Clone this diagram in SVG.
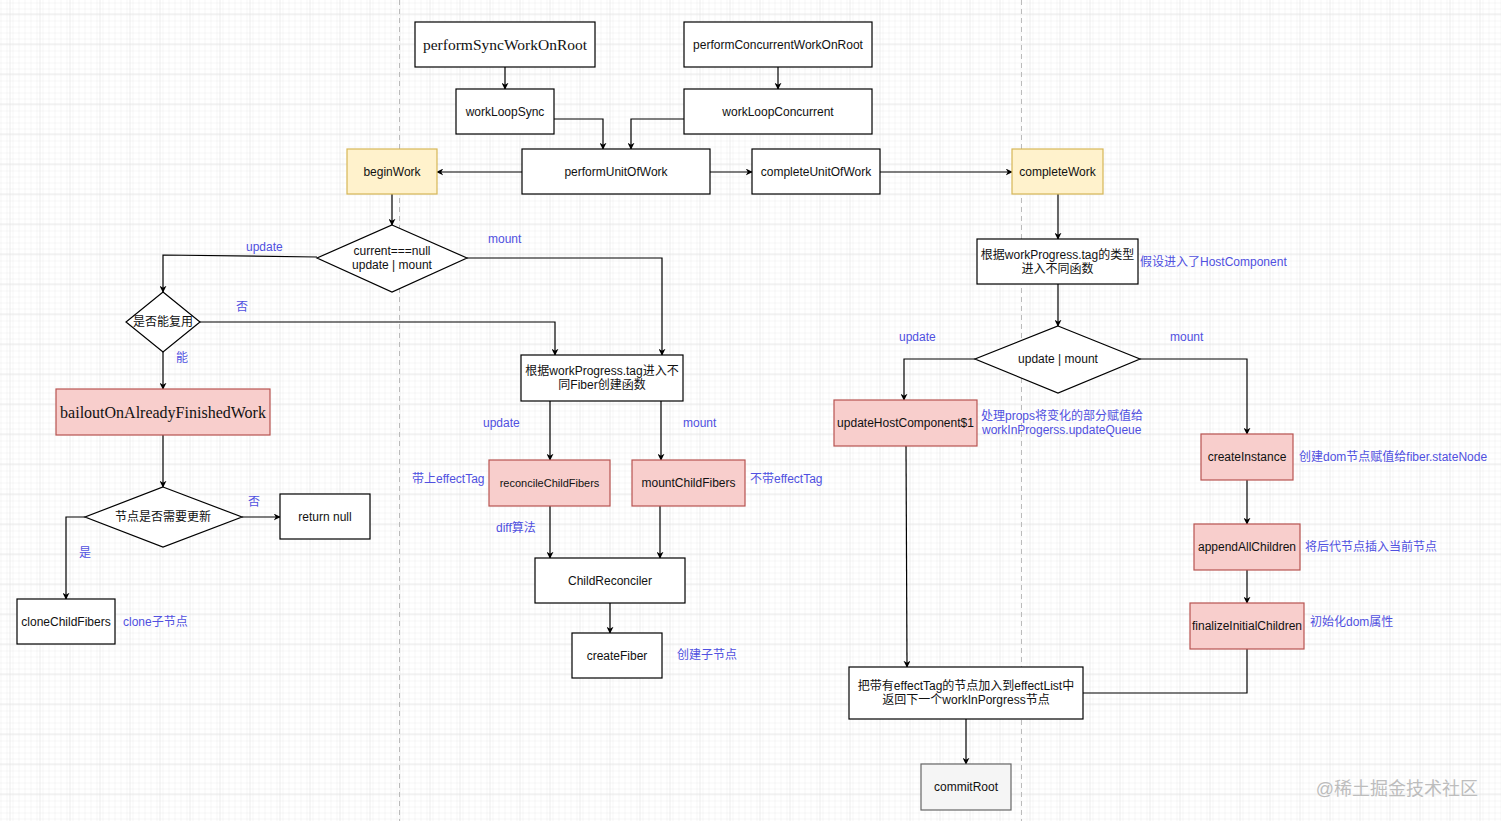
<svg xmlns="http://www.w3.org/2000/svg" width="1501" height="821" viewBox="0 0 1501 821">
<defs>
<pattern id="minor" width="6" height="6" patternUnits="userSpaceOnUse" x="3" y="1">
<path d="M6 0H0V6" fill="none" stroke="#ededed" stroke-width="1"/>
</pattern>
<pattern id="major" width="30" height="30" patternUnits="userSpaceOnUse" x="9.5" y="13.5">
<rect width="30" height="30" fill="url(#minor)"/>
<path d="M30 0H0V30" fill="none" stroke="#dcdcdc" stroke-width="1"/>
</pattern>
<marker id="arr" viewBox="0 0 10 10" refX="9" refY="5" markerWidth="7" markerHeight="7" orient="auto" markerUnits="userSpaceOnUse">
<path d="M0 0L10 5L0 10L3 5Z" fill="#000"/>
</marker>
</defs>
<style>
.box{fill:#fff;stroke:#000;stroke-width:1.2}
.yel{fill:#fff2cc;stroke:#d6b656;stroke-width:1.2}
.red{fill:#f8cecc;stroke:#b85450;stroke-width:1.2}
.gry{fill:#f5f5f5;stroke:#666;stroke-width:1.2}
.t{font-family:"Liberation Sans","Noto Sans CJK SC",sans-serif;font-size:12px;fill:#111;text-anchor:middle;dominant-baseline:central}
.s{font-family:"Liberation Serif","Noto Sans CJK SC",serif;font-size:16px;fill:#111;text-anchor:middle;dominant-baseline:central}
.l{font-family:"Liberation Sans","Noto Sans CJK SC",sans-serif;font-size:12px;fill:#5050e0;dominant-baseline:central}
.c path{fill:none;stroke:#000;stroke-width:1.2}
</style>
<rect width="1501" height="821" fill="#fff"/>
<rect width="1501" height="821" fill="url(#major)"/>
<line x1="399.5" y1="0" x2="399.5" y2="821" stroke="#bbb" stroke-dasharray="5 4"/>
<line x1="1021.5" y1="0" x2="1021.5" y2="821" stroke="#bbb" stroke-dasharray="5 4"/>

<g id="connectors" class="c">
<path d="M505 67V89" marker-end="url(#arr)"/>
<path d="M778 67V89" marker-end="url(#arr)"/>
<path d="M554 119H603V149" marker-end="url(#arr)"/>
<path d="M684 119H631V149" marker-end="url(#arr)"/>
<path d="M522 172H437" marker-end="url(#arr)"/>
<path d="M710 172H752" marker-end="url(#arr)"/>
<path d="M880 172H1012" marker-end="url(#arr)"/>
<path d="M392 194V225" marker-end="url(#arr)"/>
<path d="M317 257L163 255V292" marker-end="url(#arr)"/>
<path d="M467 258H662V355" marker-end="url(#arr)"/>
<path d="M200 322H555V355" marker-end="url(#arr)"/>
<path d="M163 352V389" marker-end="url(#arr)"/>
<path d="M163 435V487" marker-end="url(#arr)"/>
<path d="M242 517H280" marker-end="url(#arr)"/>
<path d="M85 517H66V599" marker-end="url(#arr)"/>
<path d="M550 401V460" marker-end="url(#arr)"/>
<path d="M661 401V460" marker-end="url(#arr)"/>
<path d="M550 506V558" marker-end="url(#arr)"/>
<path d="M660 506V558" marker-end="url(#arr)"/>
<path d="M610 603V633" marker-end="url(#arr)"/>
<path d="M1058 194V239" marker-end="url(#arr)"/>
<path d="M1058 284V326" marker-end="url(#arr)"/>
<path d="M975 359H904V400" marker-end="url(#arr)"/>
<path d="M1140 359H1247V434" marker-end="url(#arr)"/>
<path d="M906 446L907 667" marker-end="url(#arr)"/>
<path d="M1247 480V524" marker-end="url(#arr)"/>
<path d="M1247 570V603" marker-end="url(#arr)"/>
<path d="M1247 649V693H1083"/>
<path d="M966 719V764" marker-end="url(#arr)"/>
</g>

<g id="labels">
<text class="l" x="246" y="247">update</text>
<text class="l" x="488" y="239">mount</text>
<text class="l" x="236" y="307">否</text>
<text class="l" x="176" y="358">能</text>
<text class="l" x="248" y="502">否</text>
<text class="l" x="79" y="553">是</text>
<text class="l" x="123" y="622">clone子节点</text>
<text class="l" x="483" y="423">update</text>
<text class="l" x="683" y="423">mount</text>
<text class="l" x="412" y="479">带上effectTag</text>
<text class="l" x="750" y="479">不带effectTag</text>
<text class="l" x="496" y="528">diff算法</text>
<text class="l" x="677" y="655">创建子节点</text>
<text class="l" x="1140" y="262">假设进入了HostComponent</text>
<text class="l" x="899" y="337">update</text>
<text class="l" x="1170" y="337">mount</text>
<text class="l" x="981" y="416">处理props将变化的部分赋值给</text>
<text class="l" x="982" y="430">workInProgerss.updateQueue</text>
<text class="l" x="1299" y="457">创建dom节点赋值给fiber.stateNode</text>
<text class="l" x="1305" y="547">将后代节点插入当前节点</text>
<text class="l" x="1310" y="622">初始化dom属性</text>
</g>

<g id="performSyncWorkOnRoot"><rect class="box" x="415" y="22" width="180" height="45"/><text class="s" x="505" y="44.5" style="font-size:15.5px">performSyncWorkOnRoot</text></g>
<g id="performConcurrentWorkOnRoot"><rect class="box" x="684" y="22" width="188" height="45"/><text class="t" x="778" y="44.5">performConcurrentWorkOnRoot</text></g>
<g id="workLoopSync"><rect class="box" x="456" y="89" width="98" height="45"/><text class="t" x="505" y="111.5">workLoopSync</text></g>
<g id="workLoopConcurrent"><rect class="box" x="684" y="89" width="188" height="45"/><text class="t" x="778" y="111.5">workLoopConcurrent</text></g>
<g id="performUnitOfWork"><rect class="box" x="522" y="149" width="188" height="45"/><text class="t" x="616" y="171.5">performUnitOfWork</text></g>
<g id="completeUnitOfWork"><rect class="box" x="752" y="149" width="128" height="45"/><text class="t" x="816" y="171.5">completeUnitOfWork</text></g>
<g id="beginWork"><rect class="yel" x="347" y="149" width="90" height="45"/><text class="t" x="392" y="171.5">beginWork</text></g>
<g id="completeWork"><rect class="yel" x="1012" y="149" width="91" height="45"/><text class="t" x="1057.5" y="171.5">completeWork</text></g>
<g id="isMount"><path class="box" d="M392 225L467 258L392 292L317 258Z"/><text class="t" x="392" y="251">current===null</text><text class="t" x="392" y="265">update | mount</text></g>
<g id="canReuse"><path class="box" d="M163 292L200 322L163 352L126 322Z"/><text class="t" x="163" y="322">是否能复用</text></g>
<g id="bailout"><rect class="red" x="56" y="389" width="214" height="46"/><text class="s" x="163" y="412">bailoutOnAlreadyFinishedWork</text></g>
<g id="needUpdate"><path class="box" d="M163 487L242 517L163 547L85 517Z"/><text class="t" x="163" y="517">节点是否需要更新</text></g>
<g id="returnNull"><rect class="box" x="280" y="494" width="90" height="45"/><text class="t" x="325" y="516.5">return null</text></g>
<g id="cloneChildFibers"><rect class="box" x="17" y="599" width="98" height="45"/><text class="t" x="66" y="621.5">cloneChildFibers</text></g>
<g id="tagSwitch1"><rect class="box" x="521" y="355" width="162" height="46"/><text class="t" x="602" y="371">根据workProgress.tag进入不</text><text class="t" x="602" y="385">同Fiber创建函数</text></g>
<g id="reconcileChildFibers"><rect class="red" x="489" y="460" width="121" height="46"/><text class="t" x="549.5" y="483" style="font-size:11px">reconcileChildFibers</text></g>
<g id="mountChildFibers"><rect class="red" x="632" y="460" width="113" height="46"/><text class="t" x="688.5" y="483">mountChildFibers</text></g>
<g id="ChildReconciler"><rect class="box" x="535" y="558" width="150" height="45"/><text class="t" x="610" y="580.5">ChildReconciler</text></g>
<g id="createFiber"><rect class="box" x="572" y="633" width="90" height="45"/><text class="t" x="617" y="655.5">createFiber</text></g>
<g id="tagSwitch2"><rect class="box" x="977" y="239" width="161" height="45"/><text class="t" x="1057.5" y="255">根据workProgress.tag的类型</text><text class="t" x="1057.5" y="269">进入不同函数</text></g>
<g id="updateOrMount"><path class="box" d="M1058 326L1140 359L1058 393L975 359Z"/><text class="t" x="1058" y="359">update | mount</text></g>
<g id="updateHostComponent"><rect class="red" x="834" y="400" width="143" height="46"/><text class="t" x="905.5" y="423">updateHostComponent$1</text></g>
<g id="createInstance"><rect class="red" x="1201" y="434" width="92" height="46"/><text class="t" x="1247" y="457">createInstance</text></g>
<g id="appendAllChildren"><rect class="red" x="1194" y="524" width="106" height="46"/><text class="t" x="1247" y="547">appendAllChildren</text></g>
<g id="finalizeInitialChildren"><rect class="red" x="1190" y="603" width="114" height="46"/><text class="t" x="1247" y="626">finalizeInitialChildren</text></g>
<g id="effectList"><rect class="box" x="849" y="667" width="234" height="52"/><text class="t" x="966" y="686">把带有effectTag的节点加入到effectList中</text><text class="t" x="966" y="700">返回下一个workInPorgress节点</text></g>
<g id="commitRoot"><rect class="gry" x="921" y="764" width="90" height="46"/><text class="t" x="966" y="787">commitRoot</text></g>

<text x="1478" y="789" style="font-family:'Liberation Sans','Noto Sans CJK SC',sans-serif;font-size:18px;fill:#bdbdbd;text-anchor:end;dominant-baseline:central">@稀土掘金技术社区</text>
</svg>
